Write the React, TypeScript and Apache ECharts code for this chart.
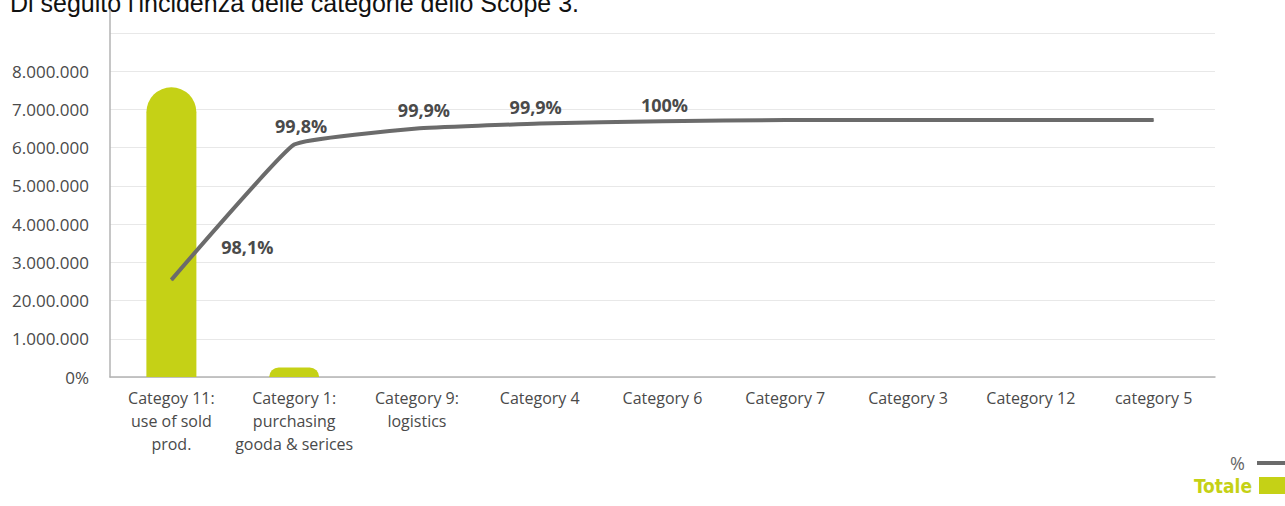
import React, { useEffect, useRef } from "react";
import * as echarts from "echarts";

const categories = [
  "Categoy 11:\nuse of sold\nprod.",
  "Category 1:\npurchasing\ngooda & serices",
  "Category 9:\nlogistics",
  "Category 4",
  "Category 6",
  "Category 7",
  "Category 3",
  "Category 12",
  "category 5",
];
const totaleValues = [7580000, 250000, 0, 0, 0, 0, 0, 0, 0];
const percentLineValues = [2540000, 6080000, 6500000, 6630000, 6690000, 6720000, 6720000, 6720000, 6720000];
const percentLabels = ["98,1%", "99,8%", "99,9%", "99,9%", "100%", "", "", "", ""];
const yTickLabels = [
  "0%",
  "1.000.000",
  "20.00.000",
  "3.000.000",
  "4.000.000",
  "5.000.000",
  "6.000.000",
  "7.000.000",
  "8.000.000",
];
const titleText = "Di seguito l'incidenza delle categorie dello Scope 3.";

const labelOffsets: [number, number][] = [
  [76, -33],
  [7, -19],
  [7, -19],
  [-4, -17],
  [2, -16],
  [0, 0],
  [0, 0],
  [0, 0],
  [0, 0],
];

export default function App() {
  const ref = useRef<HTMLDivElement>(null);
  useEffect(() => {
    if (!ref.current) return;
    const chart = echarts.init(ref.current, null, { renderer: "svg" });
    const green = "#c5d116";
    const gray = "#6b6b6b";
    const textColor = "#4a4a4a";
    chart.setOption({
      animation: false,
      textStyle: { fontFamily: "Open Sans" },
      grid: { left: 110, right: 70, top: 10, bottom: 129, containLabel: false },
      graphic: [
        {
          type: "text",
          left: 10,
          top: -10,
          style: {
            text: titleText,
            font: "25px 'Liberation Sans', Arial, sans-serif",
            fill: "#111",
          },
        },
      ],
      legend: [
        {
          data: [{ name: "%", itemStyle: { opacity: 0 }, lineStyle: { width: 4, color: gray } }],
          right: -4,
          top: 454,
          padding: 0,
          align: "right",
          itemWidth: 30,
          itemHeight: 14,
          textStyle: { color: "#666", fontSize: 18, padding: [0, 7, 0, 0] },
        },
        {
          data: [{ name: "Totale", icon: "rect" }],
          right: -4,
          top: 476,
          padding: 0,
          align: "right",
          itemWidth: 30,
          itemHeight: 17,
          textStyle: {
            color: green,
            fontSize: 19,
            fontWeight: "bold",
            fontFamily: "'Liberation Sans Narrow', 'DejaVu Sans Condensed', 'Open Sans'",
            padding: [0, 2, 0, 0],
          },
        },
      ],
      xAxis: {
        type: "category",
        data: categories,
        axisLine: { show: true, lineStyle: { color: "#b3b3b3", width: 1.5 } },
        axisTick: { show: false },
        axisLabel: {
          color: textColor,
          fontSize: 16,
          lineHeight: 23,
          margin: 9,
          interval: 0,
        },
      },
      yAxis: {
        type: "value",
        min: 0,
        max: 9600000,
        interval: 1000000,
        axisLine: { show: true, lineStyle: { color: "#b3b3b3", width: 1.5 } },
        axisTick: { show: false },
        splitLine: { show: true, showMaxLine: false, lineStyle: { color: "#e8e8e8", width: 1 } },
        axisLabel: {
          color: textColor,
          fontSize: 17,
          margin: 21,
          formatter: (v: number) => {
            const i = Math.round(v / 1000000);
            return Math.abs(v - i * 1000000) < 1 && yTickLabels[i] !== undefined ? yTickLabels[i] : "";
          },
        },
      },
      series: [
        {
          name: "Totale",
          type: "bar",
          data: totaleValues,
          barWidth: 50,
          itemStyle: { color: green, borderRadius: [25, 25, 0, 0] },
        },
        {
          name: "%",
          type: "line",
          data: percentLineValues.map((v, i) => ({
            value: v,
            label: {
              show: percentLabels[i] !== "",
              formatter: percentLabels[i],
              position: "inside",
              offset: labelOffsets[i],
            },
          })),
          smooth: 0.1,
          symbol: "circle",
          symbolSize: 1,
          showSymbol: true,
          itemStyle: { color: gray },
          lineStyle: { color: gray, width: 4 },
          label: {
            show: true,
            color: textColor,
            fontSize: 18,
            fontWeight: "bold",
          },
        },
      ],
    });
    return () => chart.dispose();
  }, []);
  return (
    <div
      ref={ref}
      style={{ position: "fixed", left: 0, top: 0, width: 1285, height: 506, background: "#fff" }}
    />
  );
}
